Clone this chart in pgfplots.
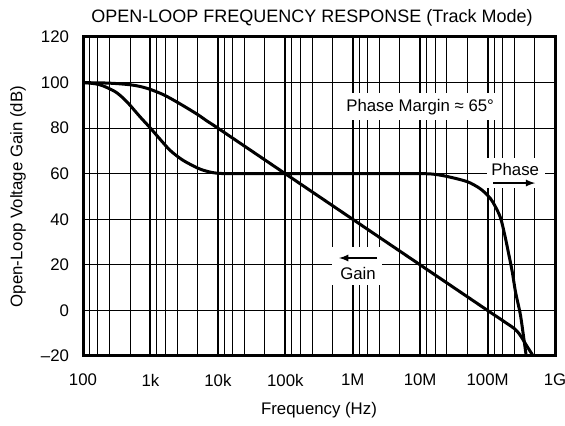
\documentclass[border=0pt]{standalone}
\usepackage{fontspec}
\setmainfont{Liberation Sans}
\usepackage{pgfplots}
\pgfplotsset{compat=1.18}
\begin{document}
\begin{tikzpicture}
\fontsize{8.4}{10}\selectfont
\useasboundingbox (-41.5pt,-35pt) rectangle (241pt,178pt);
\begin{axis}[
    scale only axis,
    width=236pt, height=159.5pt,
    xmode=log,
    xmin=100, xmax=1e9,
    ymin=-20, ymax=120,
    xtick={1e2,1e3,1e4,1e5,1e6,1e7,1e8,1e9},
    xticklabels={100,1k,10k,100k,1M,10M,100M,1G},
    minor xtick={125,166.67,250,500,1250,1666.7,2500,5000,
        12500,16667,25000,50000,125000,166670,250000,500000,
        1.25e6,1.6667e6,2.5e6,5e6,1.25e7,1.6667e7,2.5e7,5e7,
        1.25e8,1.6667e8,2.5e8,5e8},
    ytick={-20,0,20,40,60,80,100,120},
    yticklabels={\textendash20,0,20,40,60,80,100,120},
    minor ytick={0,20,40,60,80,100},
    xmajorgrids, xminorgrids, yminorgrids,
    major grid style={black, line width=1pt},
    minor grid style={black, line width=0.5pt},
    major tick length=0pt, minor tick length=0pt,
    axis line style={line width=1.5pt},
    tick label style={font=\fontsize{8.4}{10}\selectfont},
    x tick label style={yshift=-6pt},
    y tick label style={xshift=-4pt},
    title={OPEN-LOOP FREQUENCY RESPONSE (Track Mode)},
    title style={anchor=center, yshift=3.5pt, xshift=-3.5pt, font=\fontsize{9}{11}\selectfont},
    xlabel={Frequency (Hz)},
    xlabel style={at={(0.5,0)}, anchor=center, yshift=-27pt},
    ylabel={Open-Loop Voltage Gain (dB)},
    ylabel style={at={(0,0.5)}, anchor=center, yshift=32.5pt},
    label style={font=\fontsize{8.4}{10}\selectfont},
    clip=true,
]
% white boxes behind labels
\fill[white] (axis cs:7e5,95.4) rectangle (axis cs:1.4e8,83.5);
\fill[white] (axis cs:9.9e7,66.8) rectangle (axis cs:7.2e8,53.7);
\fill[white] (axis cs:4.9e5,27.8) rectangle (axis cs:2.73e6,11.1);

% Gain
\addplot[black, line width=1.5pt, smooth] coordinates {
    (100,99.96) (200,99.83) (300,99.6) (500,99.03) (700,98.3) (1000,96.99)
    (1500,94.9) (2000,93.0) (3000,90.0) (5000,86.0) (7000,83.0) (10000,80.0)
    (1e5,60) (1e6,40) (1e7,20) (1e8,0)
    (1.5e8,-3.5) (2e8,-6) (2.5e8,-8) (2.9e8,-10) (3.3e8,-12.5)
    (3.8e8,-15.5) (4.3e8,-18) (4.75e8,-20)
};
% Phase
\addplot[black, line width=1.5pt, smooth] coordinates {
    (100,100) (150,99.5) (200,98.5) (300,96) (400,93) (500,90) (700,85)
    (1000,80) (1500,74) (2000,70) (3000,66) (5000,62.5) (7000,61)
    (10000,60.2) (20000,60) (1e6,60) (1e7,60) (1.56e7,59.8) (2.5e7,58.8)
    (5e7,56.5) (7.7e7,53.5) (1e8,50.5) (1.2e8,47.5) (1.54e8,41)
    (1.8e8,33) (2.05e8,25) (2.32e8,17) (2.6e8,8) (3.05e8,-1.5)
    (3.4e8,-11) (3.74e8,-20)
};

\node at (axis cs:1e7,89) {Phase Margin ≈ 65°};
\node at (axis cs:2.57e8,62) {Phase};
\draw[-latex, line width=0.6pt] (axis cs:1.21e8,55.9) -- (axis cs:5.08e8,55.9);
\node at (axis cs:1.2e6,16.4) {Gain};
\draw[-latex, line width=0.6pt] (axis cs:2.3e6,23) -- (axis cs:6.28e5,23);
\end{axis}
\end{tikzpicture}
\end{document}
